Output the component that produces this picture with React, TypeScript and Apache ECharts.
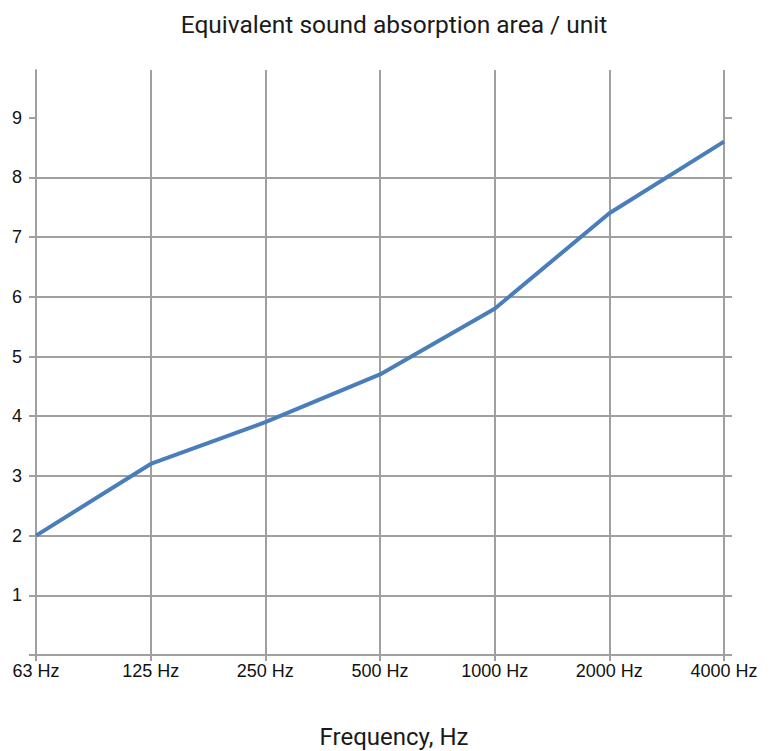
import React, { useEffect, useRef } from "react";
import * as echarts from "echarts";

const categories = ["63 Hz", "125 Hz", "250 Hz", "500 Hz", "1000 Hz", "2000 Hz", "4000 Hz"];
const absorption = [2.0, 3.2, 3.9, 4.7, 5.8, 7.4, 8.6];
const yTickValues = [0, 1, 2, 3, 4, 5, 6, 7, 8, 9];
const yLabelValues = [1, 2, 3, 4, 5, 6, 7, 8, 9];
const titleText = "Equivalent sound absorption area / unit";
const xAxisName = "Frequency, Hz";

export default function App() {
  const ref = useRef<HTMLDivElement>(null);
  useEffect(() => {
    document.body.style.margin = "0";
    if (!ref.current) return;
    const chart = echarts.init(ref.current, undefined, { renderer: "svg" });
    const gridColor = "#a0a0a0";
    chart.setOption({
      animation: false,
      backgroundColor: "#ffffff",
      title: {
        text: titleText,
        left: 389,
        top: 7,
        textAlign: "center",
        textStyle: { fontFamily: "Roboto", fontSize: 24.5, fontWeight: "normal", color: "#1a1a1a" },
      },
      grid: { left: 36, right: 47, top: 70, bottom: 96, containLabel: false, outerBoundsMode: "none" },
      xAxis: {
        type: "category",
        data: categories,
        boundaryGap: false,
        name: xAxisName,
        nameLocation: "middle",
        nameGap: 70,
        nameTextStyle: { fontFamily: "Roboto", fontSize: 24, color: "#1a1a1a", padding: [0, 0, 0, 28] },
        axisLine: { show: true, lineStyle: { color: gridColor, width: 2 } },
        axisTick: { show: true, length: 6, alignWithLabel: true, lineStyle: { color: gridColor, width: 2 } },
        axisLabel: { fontFamily: "Liberation Sans", fontSize: 18, color: "#111", margin: 7, interval: 0 },
        splitLine: { show: true, lineStyle: { color: gridColor, width: 2 } },
      },
      yAxis: [
        {
          type: "value",
          min: 0,
          max: 9.8,
          interval: 1,
          axisLine: { show: true, lineStyle: { color: gridColor, width: 2 } },
          axisTick: { show: true, length: 7, customValues: yTickValues, lineStyle: { color: gridColor, width: 2 } },
          axisLabel: {
            fontFamily: "Liberation Sans",
            fontSize: 18,
            color: "#111",
            margin: 14,
            customValues: yLabelValues,
          },
          splitLine: { show: true, showMaxLine: false, lineStyle: { color: gridColor, width: 2 } },
        },
        {
          type: "value",
          position: "right",
          min: 0,
          max: 9.8,
          interval: 1,
          axisLine: { show: false },
          axisTick: { show: true, length: 8, customValues: yTickValues, lineStyle: { color: gridColor, width: 2 } },
          axisLabel: { show: false },
          splitLine: { show: false },
        },
      ],
      series: [
        {
          type: "line",
          data: absorption,
          yAxisIndex: 0,
          symbol: "none",
          lineStyle: { color: "#4a7ebb", width: 4, cap: "butt" },
          itemStyle: { color: "#4a7ebb" },
        },
      ],
    });
    return () => chart.dispose();
  }, []);
  return <div ref={ref} style={{ width: 771, height: 751 }} />;
}
